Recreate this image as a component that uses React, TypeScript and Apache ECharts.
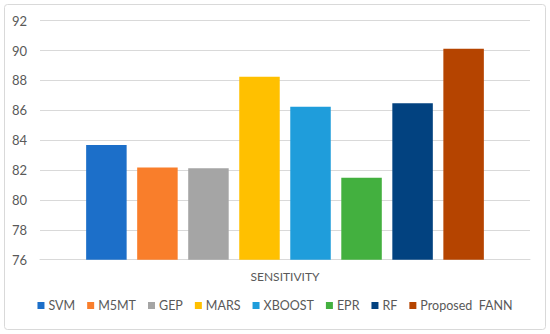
import React, { useEffect, useRef } from "react";
import * as echarts from "echarts";

const categories = ["SENSITIVITY"];
const models = ["SVM", "M5MT", "GEP", "MARS", "XBOOST", "EPR", "RF", "Proposed  FANN"];
const sensitivity = [83.68, 82.18, 82.12, 88.24, 86.24, 81.48, 86.48, 90.12];
const colors = ["#1C6FC9", "#F97E2B", "#A5A5A5", "#FFC000", "#1F9DDB", "#43B03F", "#024280", "#B54400"];
const yMin = 76;
const yMax = 92;
const yStep = 2;

export default function App() {
  const ref = useRef<HTMLDivElement>(null);
  useEffect(() => {
    if (!ref.current) return;
    const chart = echarts.init(ref.current, null, { renderer: "svg" });
    const font = "Lato, 'Open Sans', sans-serif";
    chart.setOption({
      animation: false,
      backgroundColor: "#ffffff",
      textStyle: { fontFamily: font },
      graphic: [
        {
          type: "rect",
          shape: { x: 4.5, y: 4.5, width: 541, height: 325, r: 3 },
          style: { fill: "none", stroke: "#D9D9D9", lineWidth: 1 },
          silent: true,
        },
      ],
      grid: {
        left: 40,
        right: 20,
        top: 20.7,
        bottom: 74.3,
        containLabel: false,
        outerBoundsMode: "none",
      },
      legend: {
        bottom: 17,
        left: "center",
        icon: "rect",
        itemWidth: 7,
        itemHeight: 7,
        itemGap: 12,
        textStyle: { color: "#595959", fontSize: 12.5, fontFamily: font, padding: [0, 0, 0, -1] },
        data: models,
      },
      xAxis: {
        type: "category",
        data: categories,
        axisLine: { show: true, lineStyle: { color: "#D9D9D9", width: 1 } },
        axisTick: { show: false },
        axisLabel: { color: "#595959", fontSize: 12, margin: 11, fontFamily: font },
      },
      yAxis: {
        type: "value",
        min: yMin,
        max: yMax,
        interval: yStep,
        axisLine: { show: false },
        axisTick: { show: false },
        splitLine: { lineStyle: { color: "#D9D9D9", width: 1 } },
        axisLabel: { color: "#595959", fontSize: 13, margin: 13, fontFamily: font },
      },
      series: models.map((name, i) => ({
        name,
        type: "bar",
        data: [sensitivity[i]],
        barWidth: 40.5,
        barGap: "26%",
        itemStyle: { color: colors[i] },
      })),
    });
    return () => chart.dispose();
  }, []);
  return (
    <div
      ref={ref}
      style={{ position: "absolute", left: 0, top: 0, width: 550, height: 334 }}
    />
  );
}
